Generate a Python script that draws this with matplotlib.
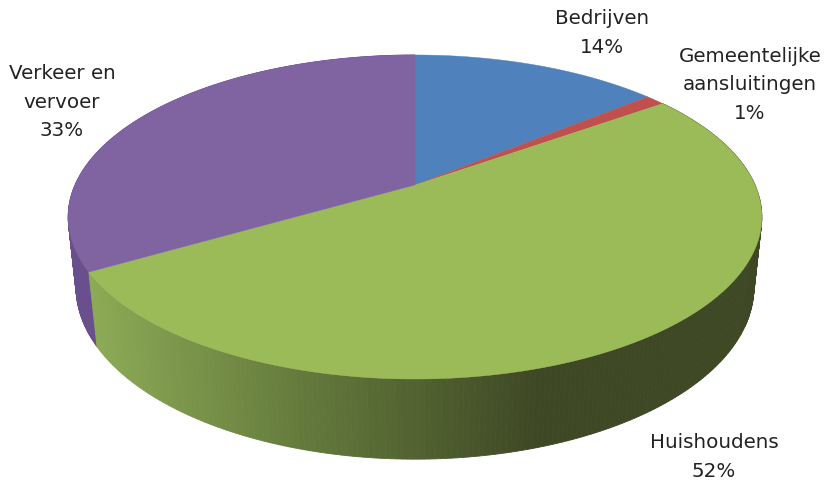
import numpy as np
import matplotlib
matplotlib.use("Agg")
import matplotlib.pyplot as plt
from matplotlib.patches import Polygon

categories = ["Bedrijven", "Gemeentelijke\naansluitingen", "Huishoudens", "Verkeer en\nvervoer"]
values = [14.0, 1.1, 51.5, 33.4]
top_colors = ["#4F81BD", "#C0504D", "#9BBB59", "#8064A2"]
label_pos = [(602, 33), (750, 85), (714, 457), (62, 102)]

W, H = 827, 481
CX, CY, A, B, K = 415, 186, 340, 155.7, 0.1975
BOT_Y, A2, B2, K2 = 247, 329, 162, 0.24
WARP = np.radians(2.9)

side_stops_x = [90, 300, 540, 830]
side_r = [140, 100, 62, 62]
side_g = [170, 122, 72, 72]
side_b = [85, 60, 36, 36]


def project(theta, cy=CY, a=A, b=B, k=K):
    u, v = np.sin(theta), np.cos(theta)
    w = 1 + k * v
    return CX + a * u / w, cy - b * v / w


fig = plt.figure(figsize=(W / 100, H / 100), dpi=100)
ax = fig.add_axes([0, 0, 1, 1])
ax.set_xlim(0, W)
ax.set_ylim(H, 0)
ax.axis("off")

fr = np.array(values, dtype=float) / sum(values)
edges = np.concatenate([[0], np.cumsum(fr)]) * 2 * np.pi

# side walls
for i in [3, 2]:
    n = 240
    th = np.linspace(edges[i], edges[i + 1], n + 1)
    xt, yt = project(th)
    xb, yb = project(th + WARP * np.sin(th), BOT_Y, A2, B2, K2)
    for j in range(n):
        poly = [(xt[j], yt[j]), (xt[j + 1], yt[j + 1]), (xb[j + 1], yb[j + 1]), (xb[j], yb[j])]
        if i == 2:
            mx = (xt[j] + xt[j + 1]) / 2
            c = (np.interp(mx, side_stops_x, side_r) / 255,
                 np.interp(mx, side_stops_x, side_g) / 255,
                 np.interp(mx, side_stops_x, side_b) / 255)
        else:
            c = "#694F8C"
        ax.add_patch(Polygon(poly, closed=True, fc=c, ec=c, lw=0.6, zorder=2))

# top faces
for i in range(len(values)):
    th = np.linspace(edges[i], edges[i + 1], 200)
    x, y = project(th)
    pts = np.column_stack([np.r_[CX, x], np.r_[CY, y]])
    ax.add_patch(Polygon(pts, closed=True, fc=top_colors[i], ec=top_colors[i], lw=0.3, zorder=3))

for cat, val, (lx, ly) in zip(categories, values, label_pos):
    ax.text(lx, ly, f"{cat}\n{round(val)}%", ha="center", va="center", multialignment="center",
            fontsize=14.3, family="DejaVu Sans", color="#222222", linespacing=1.65, zorder=5)

fig.savefig("out.png", dpi=100)
